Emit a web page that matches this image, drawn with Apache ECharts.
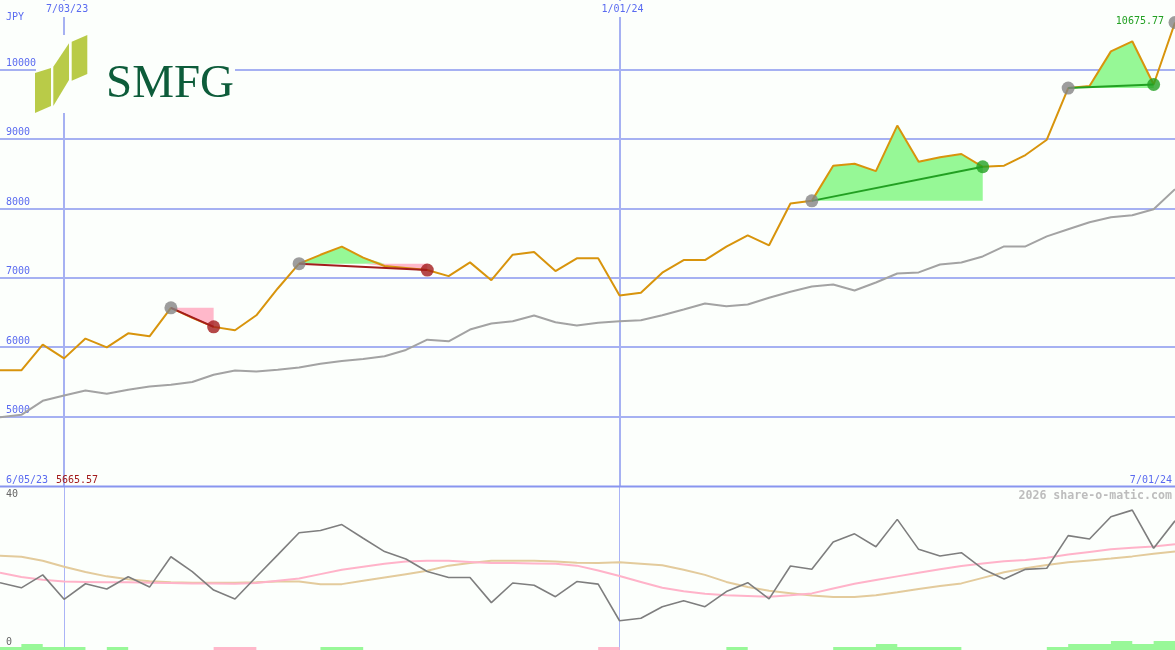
<!DOCTYPE html>
<html><head><meta charset="utf-8">
<script src="https://cdn.jsdelivr.net/npm/echarts@6/dist/echarts.min.js"></script>
<style>html,body{margin:0;padding:0;background:#fcfffc}#c{width:1175px;height:650px}</style>
</head><body><div id="c"></div>
<script>
// ---------- data ----------
const dates = ['6/12/23','6/19/23','6/26/23','7/03/23','7/10/23','7/17/23','7/24/23','7/31/23','8/07/23','8/14/23',
  '8/21/23','8/28/23','9/04/23','9/11/23','9/18/23','9/25/23','10/02/23','10/09/23','10/16/23','10/23/23',
  '10/30/23','11/06/23','11/13/23','11/20/23','11/27/23','12/04/23','12/11/23','12/18/23','12/25/23','1/01/24',
  '1/08/24','1/15/24','1/22/24','1/29/24','2/05/24','2/12/24','2/19/24','2/26/24','3/04/24','3/11/24',
  '3/18/24','3/25/24','4/01/24','4/08/24','4/15/24','4/22/24','4/29/24','5/06/24','5/13/24','5/20/24',
  '5/27/24','6/03/24','6/10/24','6/17/24','6/24/24','7/01/24'];
const price = [5665.57,5665.57,6036,5838,6123,5997,6199,6156,6566,6422,
  6292,6243,6459,6845,7202,7330,7448,7290,7168,7139,
  7110,7023,7221,6965,7332,7370,7095,7279,7279,6744,
  6783,7072,7254,7254,7448,7611,7467,8069,8107,8613,
  8642,8536,9191,8671,8734,8782,8598,8613,8767,8988,
  9731,9760,10260,10405,9783,10675.77];
const movingAvg = [4991,5025,5227,5303,5376,5328,5386,5434,5458,5497,
  5603,5665,5650,5675,5708,5760,5800,5830,5870,5960,
  6108,6084,6253,6340,6373,6455,6358,6311,6350,6373,
  6387,6460,6542,6629,6590,6614,6711,6798,6874,6903,
  6816,6931,7061,7076,7191,7220,7306,7451,7451,7595,
  7697,7798,7870,7899,7986,8275];
const oscGray = [18.2,16.8,20.3,13.7,17.9,16.5,19.8,17.0,25.2,21.2,
  16.2,13.8,19.8,25.7,31.7,32.3,33.9,30.2,26.6,24.6,
  21.2,19.6,19.6,12.8,18.1,17.5,14.4,18.5,17.8,7.9,
  8.6,11.7,13.3,11.7,15.8,18.2,13.8,22.7,21.8,29.2,
  31.4,27.9,35.3,27.2,25.4,26.3,21.9,19.2,21.8,22.1,
  30.9,30.0,36.0,37.8,27.5,34.9];
const oscPink = [20.9,19.7,19.0,18.5,18.4,18.3,18.3,18.2,18.1,18.0,
  18.0,17.9,18.1,18.7,19.3,20.5,21.7,22.5,23.3,23.9,
  24.1,24.1,23.8,23.5,23.5,23.4,23.3,22.8,21.5,20.0,
  18.4,16.8,15.9,15.2,14.8,14.6,14.4,14.8,15.3,16.6,
  17.9,18.9,19.9,20.9,21.8,22.7,23.4,24.0,24.3,24.9,
  25.8,26.5,27.2,27.6,28.0,28.6];
const oscTan = [25.5,25.2,24.1,22.5,21.1,19.9,19.1,18.6,18.3,18.2,
  18.2,18.2,18.3,18.5,18.5,17.8,17.8,18.7,19.6,20.5,
  21.4,22.8,23.5,24.1,24.1,24.1,23.95,23.6,23.5,23.7,
  23.3,22.9,21.7,20.3,18.4,17.0,16.0,15.35,14.7,14.35,
  14.3,14.8,15.6,16.5,17.3,18.0,19.5,21.0,22.1,23.0,
  23.7,24.2,24.7,25.3,26.0,26.6];
const sigUp = [0.8,1.6,0.8,0.8,0,0.8,0,0,0,0,
  0,0,0,0,0,0.8,0.8,0,0,0,
  0,0,0,0,0,0,0,0,0,0,
  0,0,0,0,0.8,0,0,0,0,0.8,
  0.8,1.6,0.8,0.8,0.8,0,0,0,0,0.8,
  1.6,1.6,2.4,1.6,2.4,2.4];
const sigDown = [0,0,0,0,0,0,0,0,0,0,
  0.8,0.8,0,0,0,0,0,0,0,0,
  0,0,0,0,0,0,0,0,0.8,0,
  0,0,0,0,0,0,0,0,0,0,
  0,0,0,0,0,0,0,0,0,0,
  0,0,0,0,0,0];
const gridDates = ['7/03/23','1/01/24'];
const priceTicks = [5000,6000,7000,8000,9000,10000];
const entries = [8,14,38,50,55];
const exits = [10,20,46,54];
const startLabel = '6/05/23';
const endLabel = '7/01/24';
const unitLabel = 'JPY';
const creditLabel = '2026 share-o-matic.com';

// ---------- styles ----------
const BG = '#fcfffc';
const BLUE_TXT = '#5a6bf0';
const GRID_BLUE = '#a6b1f2';
const MONO = '"DejaVu Sans Mono", monospace';
const LOSS = '#a31c1c';
const GAIN = '#22a022';

// ---------- derived fills ----------
const n = dates.length;
const gBase = new Array(n).fill(null), gTop = new Array(n).fill(null);
const pBase = new Array(n).fill(null), pTop = new Array(n).fill(null);
for (let t = 0; t < exits.length; t++) {
  const e = entries[t], x = exits[t], lvl = price[e];
  for (let i = e; i <= x; i++) {
    gBase[i] = lvl; gTop[i] = Math.max(price[i] - lvl, 0);
    const lo = Math.min(price[i], lvl);
    pBase[i] = lo; pTop[i] = lvl - lo;
  }
}
const tradeSeries = exits.map((x, t) => {
  const e = entries[t];
  const c = price[x] >= price[e] ? GAIN : LOSS;
  return {type:'line', xAxisIndex:0, yAxisIndex:0, data:[[e, price[e]], [x, price[x]]],
    showSymbol:false, silent:true, lineStyle:{color:c, width:2}, z:4};
});
const markers = [];
entries.forEach(e => markers.push({value:[e, price[e]], itemStyle:{color:'#858585'}}));
exits.forEach((x, t) => markers.push({value:[x, price[x]], itemStyle:{color: price[x] >= price[entries[t]] ? GAIN : LOSS}}));

const chart = echarts.init(document.getElementById('c'));
const isGridDate = (idx, val) => gridDates.indexOf(val) >= 0;

chart.setOption({
  animation:false,
  backgroundColor: BG,
  grid:[
    {left:0, right:0, top:0, height:486, containLabel:false},
    {left:0, right:0, top:487, height:163, containLabel:false}
  ],
  xAxis:[
    {type:'category', gridIndex:0, data:dates, boundaryGap:false, position:'top',
      axisLine:{show:false}, axisTick:{show:false}, axisLabel:{show:false},
      splitLine:{show:true, interval:isGridDate, lineStyle:{color:GRID_BLUE, width:2}}},
    {type:'category', gridIndex:1, data:dates, boundaryGap:false,
      axisLine:{show:false}, axisTick:{show:false}, axisLabel:{show:false},
      splitLine:{show:true, interval:isGridDate, lineStyle:{color:'#aab4f6', width:1}}}
  ],
  yAxis:[
    {type:'value', gridIndex:0, min:4000, max:11000, interval:1000,
      axisLine:{show:false}, axisTick:{show:false}, splitLine:{show:false},
      axisLabel:{inside:true, margin:6, color:BLUE_TXT, fontFamily:MONO, fontSize:10,
        formatter: v => String(v),
        verticalAlign:'bottom', lineHeight:12, showMinLabel:false, showMaxLabel:false}},
    {type:'value', gridIndex:1, min:0, max:44.05, interval:40,
      axisLine:{show:false}, axisTick:{show:false}, splitLine:{show:false},
      axisLabel:{inside:true, margin:6, color:'#666666', fontFamily:MONO, fontSize:10,
        formatter: v => String(v),
        verticalAlign:'bottom', lineHeight:12, padding:[0,0,2,0], showMaxLabel:false}}
  ],
  series:[
    {type:'line', xAxisIndex:0, yAxisIndex:0, data:movingAvg, showSymbol:false, silent:true,
      lineStyle:{color:'#a3a3a3', width:2}, z:2,
      markLine:{silent:true, symbol:'none', z:1, label:{show:false}, emphasis:{disabled:true},
        lineStyle:{color:GRID_BLUE, width:2, type:'solid'},
        data: priceTicks.map(v => ({yAxis:v}))}},
    {type:'line', xAxisIndex:0, yAxisIndex:0, stack:'g', data:gBase, showSymbol:false, silent:true, lineStyle:{opacity:0}, z:2},
    {type:'line', xAxisIndex:0, yAxisIndex:0, stack:'g', data:gTop, showSymbol:false, silent:true, lineStyle:{opacity:0},
      areaStyle:{color:'#96f896', opacity:1}, z:2},
    {type:'line', xAxisIndex:0, yAxisIndex:0, stack:'p', data:pBase, showSymbol:false, silent:true, lineStyle:{opacity:0}, z:2},
    {type:'line', xAxisIndex:0, yAxisIndex:0, stack:'p', data:pTop, showSymbol:false, silent:true, lineStyle:{opacity:0},
      areaStyle:{color:'#ffb8ca', opacity:1}, z:2},
    {type:'line', xAxisIndex:0, yAxisIndex:0, data:price, showSymbol:false, silent:true,
      lineStyle:{color:'#d8940c', width:2}, z:3},
    ...tradeSeries,
    {type:'scatter', xAxisIndex:0, yAxisIndex:0, data:markers, symbolSize:13, silent:true, z:6},
    // lower panel
    {type:'line', xAxisIndex:1, yAxisIndex:1, data:sigUp, step:'end', showSymbol:false, silent:true,
      lineStyle:{opacity:0}, areaStyle:{color:'#98f898', opacity:1}, z:2},
    {type:'line', xAxisIndex:1, yAxisIndex:1, data:sigDown, step:'end', showSymbol:false, silent:true,
      lineStyle:{opacity:0}, areaStyle:{color:'#ffb8ca', opacity:1}, z:2},
    {type:'line', xAxisIndex:1, yAxisIndex:1, data:oscTan, showSymbol:false, silent:true,
      lineStyle:{color:'#e3cb9c', width:2}, z:3},
    {type:'line', xAxisIndex:1, yAxisIndex:1, data:oscPink, showSymbol:false, silent:true,
      lineStyle:{color:'#ffb3c9', width:2}, z:3},
    {type:'line', xAxisIndex:1, yAxisIndex:1, data:oscGray, showSymbol:false, silent:true,
      lineStyle:{color:'#7e7e7e', width:1.6}, z:4}
  ]
});

// ---------- graphic overlays ----------
const txt = (text, x, y, fill, align, extra) => Object.assign({
  type:'text', z:120, silent:true,
  style:{text, x, y, fill, font:'10px ' + MONO, align:align || 'left', verticalAlign:'middle'}
}, extra || {});

const graphics = [
  {type:'rect', z:110, silent:true, shape:{x:0, y:485.5, width:1175, height:2}, style:{fill:'#8895ef'}},
  // logo
  {type:'rect', z:110, silent:true, shape:{x:36, y:35, width:199, height:78}, style:{fill:BG}},
  {type:'polygon', z:111, silent:true, shape:{points:[[35,73],[51,68],[51,106],[35,113]]}, style:{fill:'#b9cb48'}},
  {type:'polygon', z:111, silent:true, shape:{points:[[53.3,66.7],[69,43.3],[69,80],[53.3,106]]}, style:{fill:'#b9cb48'}},
  {type:'polygon', z:111, silent:true, shape:{points:[[71.7,41.7],[87.3,35],[87.3,74],[71.7,80.7]]}, style:{fill:'#b9cb48'}},
  {type:'text', z:112, silent:true, style:{text:'SMFG', x:106, y:85, fill:'#0d5c3a',
    font:'47px "Liberation Serif", "DejaVu Serif", serif', align:'left', verticalAlign:'middle'}},
  txt(unitLabel, 6, 17, BLUE_TXT),
  txt(startLabel, 6, 480, BLUE_TXT),
  txt(price[0].toFixed(2), 56, 480, LOSS),
  txt(endLabel, 1172, 480, BLUE_TXT, 'right'),
  {type:'text', z:120, silent:true, style:{text:creditLabel, x:1172, y:496, fill:'#bdbdbd',
    font:'bold 11.6px ' + MONO, align:'right', verticalAlign:'middle'}},
  txt(price[n-1].toFixed(2), 1164, 21, GAIN, 'right')
];
gridDates.forEach(d => {
  const px = chart.convertToPixel({xAxisIndex:0}, d);
  graphics.push({type:'text', z:120, silent:true, style:{text:d, x:px + 3, y:9, fill:BLUE_TXT,
    font:'10px ' + MONO, align:'center', verticalAlign:'middle',
    backgroundColor:BG, padding:[3,2,3,2]}});
});
chart.setOption({graphic:graphics});
</script>
</body></html>
